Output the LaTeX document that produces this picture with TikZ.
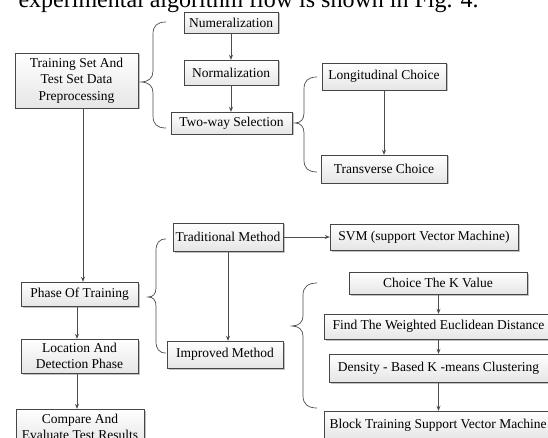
\documentclass[tikz,border=0pt]{standalone}
\usepackage{fontspec}
\setmainfont{Liberation Serif}
\usetikzlibrary{shadows,arrows.meta}
\begin{document}
\begin{tikzpicture}[x=1pt, y=-1pt, >={Stealth[length=5pt,width=4pt]},
stage/.style={draw=gray!55!black, top color=white, bottom color=gray!20, drop shadow={shadow xshift=1.5pt, shadow yshift=-1.5pt, fill=gray!70, opacity=0.7}, inner sep=1pt, align=center, font=\fontsize{13.5}{16.6}\selectfont},
link/.style={draw=gray!60!black, line width=0.7pt},
brc/.style={draw=gray!60!black, line width=0.7pt}]
\clip (0,0) rectangle (548,438);

\node[anchor=base west, font=\fontsize{24}{28}\selectfont] at (15,7.5) (intro) {experimental algorithm flow is shown in Fig. 4.};

\node[stage, minimum width=123pt, minimum height=55pt] at (76.5,80.5) (train) {Training Set And\\Test Set Data\\Preprocessing};
\node[stage, minimum width=117pt, minimum height=24pt] at (79.5,294) (phase) {Phase Of Training};
\node[stage, minimum width=117pt, minimum height=34pt] at (79.5,356) (locat) {Location And\\Detection Phase};
\node[stage, minimum width=128pt, minimum height=36pt] at (80,427) (compare) {Compare And\\Evaluate Test Results};

\node[stage, minimum width=94pt, minimum height=21pt] at (231,22.5) (numer) {Numeralization};
\node[stage, minimum width=94pt, minimum height=25pt] at (231,72.5) (normal) {Normalization};
\node[stage, minimum width=121pt, minimum height=22pt] at (231.5,123) (twoway) {Two-way Selection};

\node[stage, minimum width=124pt, minimum height=27pt] at (384,76.5) (longi) {Longitudinal Choice};
\node[stage, minimum width=126pt, minimum height=28pt] at (384,169) (trans) {Transverse Choice};

\node[stage, minimum width=110pt, minimum height=28pt] at (228,237) (trad) {Traditional Method};
\node[stage, minimum width=116pt, minimum height=27pt] at (225,354.5) (impr) {Improved Method};
\node[stage, minimum width=188pt, minimum height=26pt] at (424,237) (svm) {SVM (support Vector Machine)};

\node[stage, minimum width=178pt, minimum height=22pt] at (438,283) (kval) {Choice The K Value};
\node[stage, minimum width=228pt, minimum height=25pt] at (438.5,326.5) (weigh) {Find The Weighted Euclidean Distance};
\node[stage, minimum width=219pt, minimum height=28pt] at (438.5,368) (dens) {Density - Based K -means Clustering};
\node[stage, minimum width=228pt, minimum height=28pt] at (438,425) (blocktr) {Block Training Support Vector Machine};

\draw[link, ->] (train.south) ++(6.5,0) coordinate (t1) -- (t1 |- phase.north);
\draw[link, ->] (phase.south) ++(-2.5,0) coordinate (p1) -- (p1 |- locat.north);
\draw[link, ->] (locat.south) ++(-2.5,0) coordinate (l1) -- (l1 |- compare.north);

\draw[link, ->] (numer) -- (normal);
\draw[link, ->] (normal) -- (normal |- twoway.north);
\draw[link, ->] (longi) -- (trans);
\draw[link, ->] (trad) -- (trad |- impr.north);
\draw[link, ->] (trad) -- (svm);

\draw[link, ->] (kval.south) ++(0.5,0) coordinate (k1) -- (k1 |- weigh.north);
\draw[link, ->] (k1 |- weigh.south) -- (k1 |- dens.north);
\draw[link, ->] (k1 |- dens.south) -- (k1 |- blocktr.north);

% braces
\draw[brc] (166,22) .. controls (157,22) and (153,26) .. (153,34) -- (153,71) .. controls (153,78) and (149,82) .. (140,82)
  .. controls (149,82) and (153,86) .. (153,93) -- (153,116) .. controls (153,124) and (157,128) .. (166,128);
\draw[brc] (317,77) .. controls (308,77) and (304,81) .. (304,89) -- (304,113) .. controls (304,119) and (301,123) .. (295,123)
  .. controls (301,123) and (304,127) .. (304,133) -- (304,160) .. controls (304,168) and (308,172) .. (317,172);
\draw[brc] (166,239) .. controls (159,239) and (156,243) .. (156,251) -- (156,288) .. controls (156,294) and (153,297) .. (148,297)
  .. controls (153,297) and (156,300) .. (156,306) -- (156,341) .. controls (156,349) and (159,353) .. (166,353);
\draw[brc] (317,283) .. controls (308,283) and (303,287) .. (303,295) -- (303,316) .. controls (303,322) and (299,326) .. (292,326)
  .. controls (299,326) and (303,330) .. (303,336) -- (303,396) .. controls (303,404) and (308,408) .. (317,408);

\end{tikzpicture}
\end{document}
